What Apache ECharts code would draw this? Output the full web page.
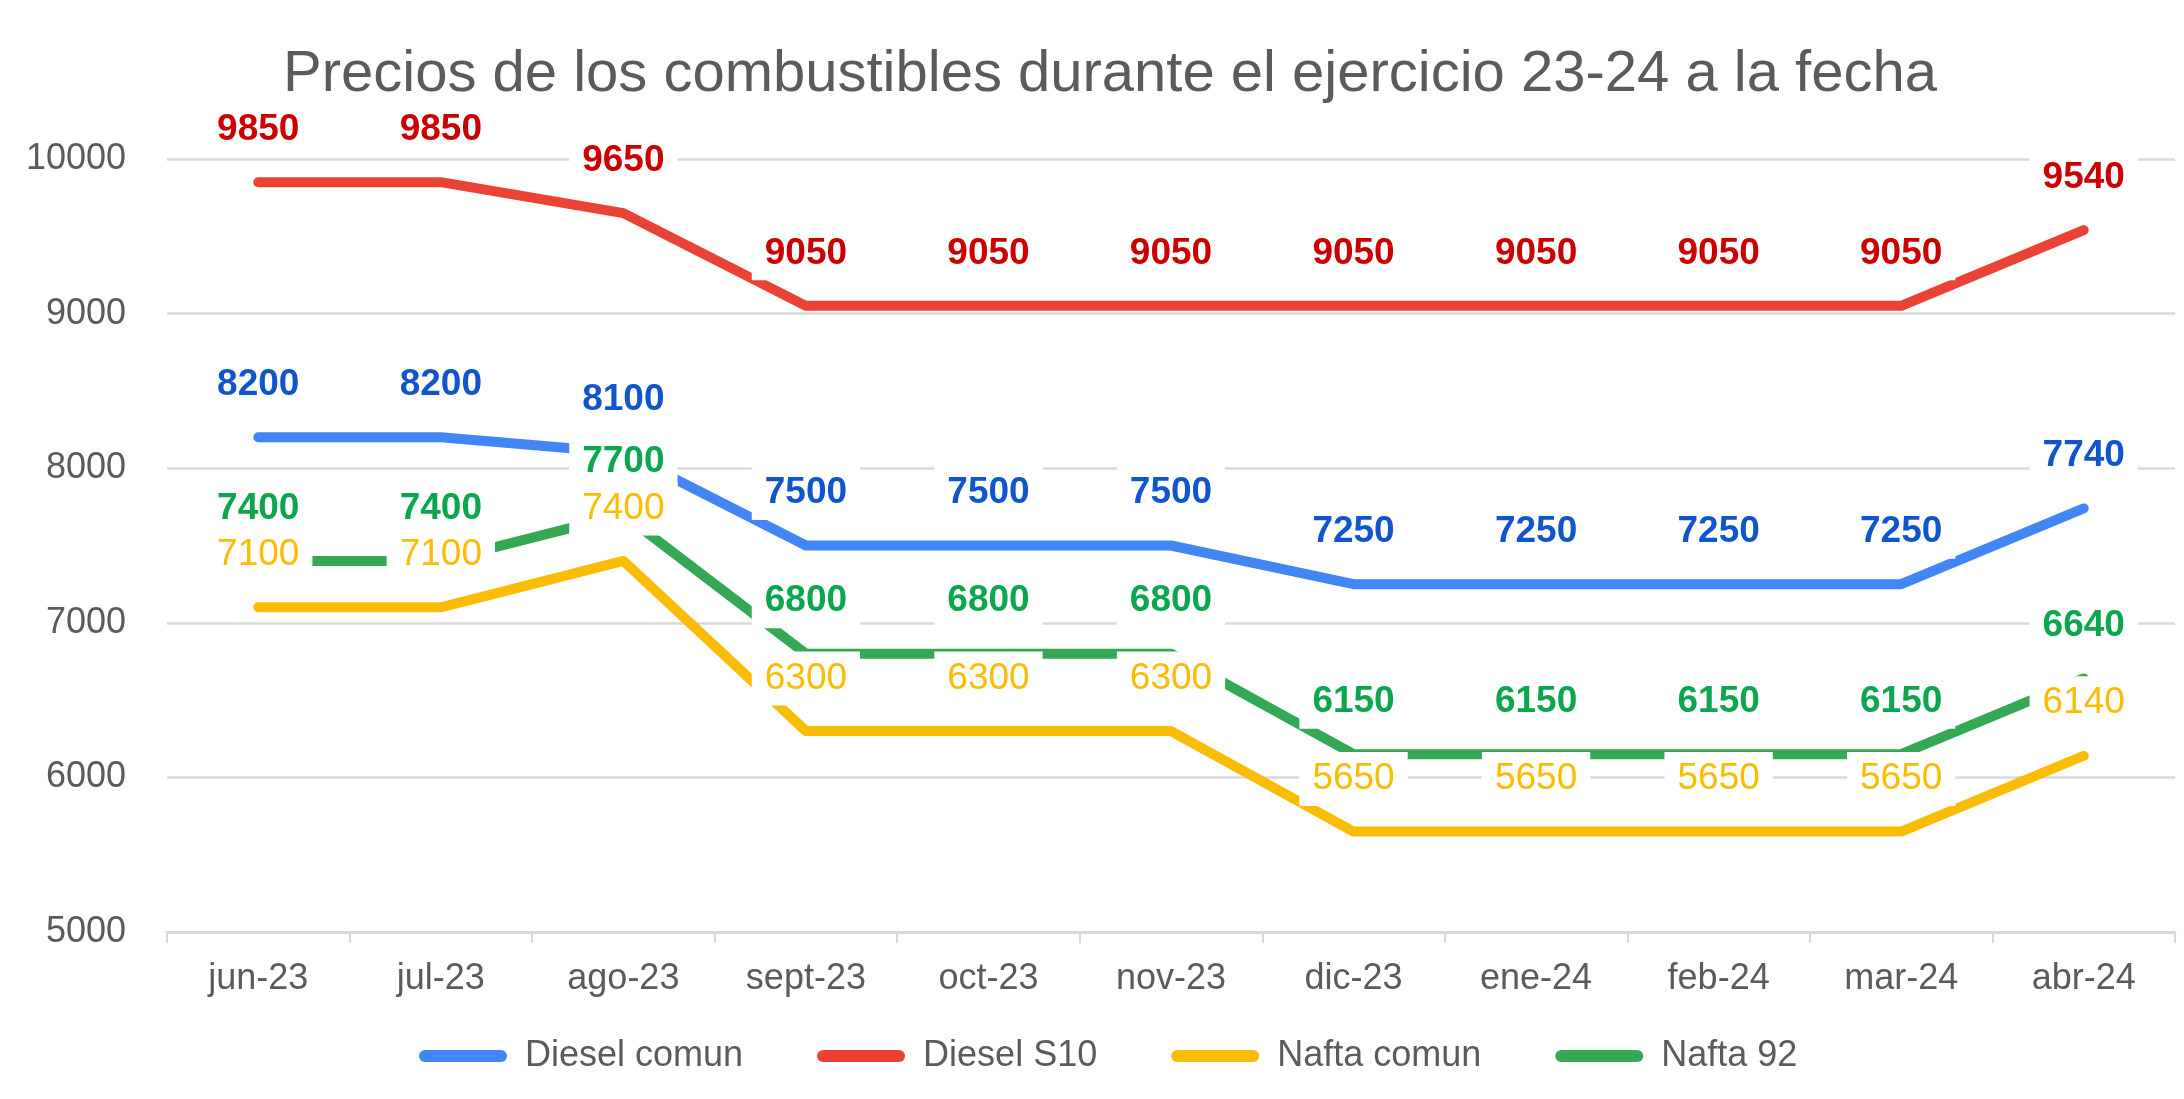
<!DOCTYPE html>
<html>
<head>
<meta charset="utf-8">
<script src="https://cdn.jsdelivr.net/npm/echarts@6/dist/echarts.min.js"></script>
<style>
html,body{margin:0;padding:0;background:#fff;}
#chart{width:2184px;height:1099px;}
</style>
</head>
<body>
<div id="chart"></div>
<script>
const categories = ['jun-23','jul-23','ago-23','sept-23','oct-23','nov-23','dic-23','ene-24','feb-24','mar-24','abr-24'];
const dieselComun = [8200,8200,8100,7500,7500,7500,7250,7250,7250,7250,7740];
const dieselS10   = [9850,9850,9650,9050,9050,9050,9050,9050,9050,9050,9540];
const naftaComun  = [7100,7100,7400,6300,6300,6300,5650,5650,5650,5650,6140];
const nafta92     = [7400,7400,7700,6800,6800,6800,6150,6150,6150,6150,6640];
const seriesNames = ['Diesel comun','Diesel S10','Nafta comun','Nafta 92'];
const titleText = 'Precios de los combustibles durante el ejercicio 23-24 a la fecha';

const seriesData = [dieselComun, dieselS10, naftaComun, nafta92];
const lineColors = ['#4285f4','#ea4335','#fbbc04','#34a853'];
const labelColors = ['#1155cc','#cc0000','#fbbc04','#0ca64f'];
const labelWeights = ['bold','bold','normal','bold'];
const FONT = 'Liberation Sans, Arial, Helvetica, sans-serif';

const series = [];
seriesData.forEach((d, i) => {
  series.push({
    name: seriesNames[i],
    type: 'line',
    data: d,
    z: 2,
    symbol: 'none',
    silent: true,
    itemStyle: {color: lineColors[i]},
    lineStyle: {color: lineColors[i], width: 10, cap: 'round', join: 'round'},
    emphasis: {disabled: true}
  });
});
seriesData.forEach((d, i) => {
  series.push({
    name: seriesNames[i] + ' (etiquetas)',
    type: 'line',
    data: d,
    z: 5,
    symbol: 'circle',
    symbolSize: 1,
    silent: true,
    itemStyle: {color: 'rgba(0,0,0,0)'},
    lineStyle: {opacity: 0, width: 0},
    emphasis: {disabled: true},
    label: {
      show: true,
      position: 'top',
      distance: 25,
      fontSize: 37,
      lineHeight: 36,
      fontFamily: FONT,
      fontWeight: labelWeights[i],
      color: labelColors[i],
      backgroundColor: '#ffffff',
      padding: [9, 13, 9, 13]
    }
  });
});

const chart = echarts.init(document.getElementById('chart'), null, {renderer: 'canvas'});
chart.setOption({
  animation: false,
  backgroundColor: '#ffffff',
  title: {
    text: titleText,
    left: 278,
    top: 41,
    textStyle: {fontSize: 58, fontWeight: 'normal', color: '#5b5b5b', fontFamily: FONT}
  },
  legend: {
    data: seriesNames,
    left: 414,
    top: 1033,
    itemWidth: 88,
    itemHeight: 12,
    itemGap: 74,
    icon: 'path://M6,0 L82,0 A6,6 0 0 1 82,12 L6,12 A6,6 0 0 1 6,0 Z',
    textStyle: {fontSize: 36, color: '#5b5b5b', fontFamily: FONT, padding: [0,0,0,13]},
    selectedMode: false
  },
  grid: {left: 167, right: 9, top: 159, bottom: 167, containLabel: false},
  xAxis: {
    type: 'category',
    data: categories,
    boundaryGap: true,
    axisLine: {lineStyle: {color: '#d9d9d9', width: 3}},
    axisTick: {show: true, length: 11, lineStyle: {color: '#d9d9d9', width: 2}},
    axisLabel: {fontSize: 36, color: '#5b5b5b', fontFamily: FONT, margin: 29, interval: 0},
    splitLine: {show: false}
  },
  yAxis: {
    type: 'value',
    min: 5000,
    max: 10000,
    interval: 1000,
    axisLine: {show: false},
    axisTick: {show: false},
    axisLabel: {fontSize: 36, color: '#5b5b5b', fontFamily: FONT, margin: 41, formatter: v => String(v)},
    splitLine: {lineStyle: {color: '#d9d9d9', width: 2.5}}
  },
  series: series
});
</script>
</body>
</html>
